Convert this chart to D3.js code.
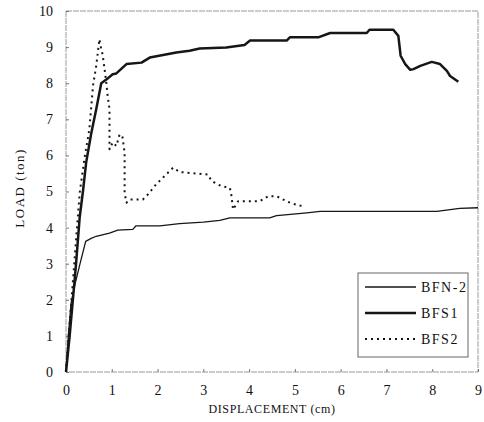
<!DOCTYPE html>
<html>
<head>
<meta charset="utf-8">
<script src="https://cdn.jsdelivr.net/npm/d3@7"></script>
<style>
  body { margin: 0; background: #fff; }
  text { font-family: "Liberation Serif", "DejaVu Serif", serif; fill: #111; }
</style>
</head>
<body>
<div class="chart"></div>
<script>
// data: [displacement (cm), load (ton)]
const seriesNames = ['BFN-2', 'BFS1', 'BFS2'];
const xTicks = [0, 1, 2, 3, 4, 5, 6, 7, 8, 9];
const yTicks = [0, 1, 2, 3, 4, 5, 6, 7, 8, 9, 10];

const bfn2 = [[0,0],[0.05,1.0],[0.11,1.9],[0.2,2.45],[0.3,2.97],[0.43,3.62],[0.55,3.7],[0.66,3.76],
  [0.95,3.85],[1.13,3.93],[1.46,3.95],[1.53,4.05],[2.05,4.05],[2.48,4.11],[3.0,4.15],[3.36,4.2],
  [3.58,4.27],[4.45,4.27],[4.6,4.33],[5.26,4.41],[5.55,4.45],[6.5,4.45],[7.5,4.45],[8.1,4.45],
  [8.6,4.53],[9.0,4.55]];

const bfs1 = [[0,0],[0.08,1.0],[0.15,2.0],[0.22,3.0],[0.3,4.3],[0.37,5.0],[0.44,5.8],[0.55,6.6],
  [0.66,7.28],[0.77,8.0],[0.88,8.1],[1.02,8.25],[1.1,8.27],[1.32,8.53],[1.65,8.57],[1.83,8.71],
  [2.41,8.85],[2.7,8.9],[2.92,8.96],[3.5,8.99],[3.9,9.06],[4.02,9.18],[4.82,9.18],[4.89,9.27],
  [5.51,9.27],[5.77,9.39],[6.57,9.39],[6.63,9.48],[7.15,9.48],[7.26,9.31],[7.31,8.76],[7.41,8.53],
  [7.52,8.37],[7.59,8.39],[7.74,8.48],[7.99,8.59],[8.17,8.53],[8.32,8.34],[8.39,8.2],[8.57,8.04]];

const bfs2 = [[0,0],[0.06,1.0],[0.12,2.0],[0.18,3.0],[0.24,4.0],[0.3,4.97],[0.4,5.89],[0.51,6.72],
  [0.59,7.93],[0.66,8.48],[0.73,9.22],[0.77,8.94],[0.8,8.8],[0.88,8.02],[0.91,7.65],[0.95,7.28],
  [0.95,6.44],[0.95,6.17],[1.02,6.36],[1.1,6.26],[1.17,6.58],[1.23,6.54],[1.28,6.08],[1.28,4.97],
  [1.32,4.69],[1.39,4.78],[1.68,4.78],[1.79,4.92],[1.97,5.2],[2.34,5.66],[2.48,5.54],[3.1,5.47],
  [3.18,5.29],[3.39,5.15],[3.58,5.1],[3.61,4.92],[3.65,4.5],[3.76,4.73],[4.23,4.73],[4.42,4.87],
  [4.6,4.87],[4.82,4.73],[4.93,4.67],[5.18,4.59]];

const allSeries = [bfn2, bfs1, bfs2];
const strokeWidths = [1.3, 2.5, 2];
const dashes = [null, null, '2,4'];

// layout
const W = 484, H = 422;
const margin = {top: 11, right: 5, bottom: 50, left: 66},
  width = W - margin.left - margin.right,
  height = H - margin.top - margin.bottom;

const svg = d3.select('.chart')
  .append('svg')
  .attr('width', W)
  .attr('height', H)
  .append('g')
  .attr('transform', 'translate(' + margin.left + ',' + margin.top + ')');

const xScale = d3.scaleLinear().domain([0, 9]).range([0, 412]);
const yScale = d3.scaleLinear().domain([0, 10]).range([height, 0]);

// frame
svg.append('rect')
  .attr('x', 0).attr('y', 0)
  .attr('width', xScale(9)).attr('height', height)
  .attr('fill', 'none')
  .attr('stroke', '#999')
  .attr('stroke-width', 1)
  .attr('stroke-dasharray', '6,1');

// axes
svg.append('g')
  .attr('transform', 'translate(0,' + height + ')')
  .call(d3.axisBottom(xScale).tickValues(xTicks).tickSize(-3).tickPadding(13).tickFormat(d3.format('d')))
  .call(g => g.select('.domain').remove())
  .call(g => g.selectAll('.tick line').attr('stroke', '#777'))
  .call(g => g.selectAll('.tick text').attr('font-size', 14).attr('font-family', '"Liberation Serif", serif').attr('fill', '#111'));

svg.append('g')
  .call(d3.axisLeft(yScale).tickValues(yTicks).tickSize(-3).tickPadding(13).tickFormat(d3.format('d')))
  .call(g => g.select('.domain').remove())
  .call(g => g.selectAll('.tick line').attr('stroke', '#777'))
  .call(g => g.selectAll('.tick text').attr('font-size', 14).attr('font-family', '"Liberation Serif", serif').attr('fill', '#111'));

// axis titles
svg.append('text')
  .attr('x', 206)
  .attr('y', height + 41)
  .attr('text-anchor', 'middle')
  .attr('font-size', 12)
  .attr('letter-spacing', 0.6)
  .text('DISPLACEMENT (cm)');

svg.append('text')
  .attr('transform', 'translate(-42,' + (yScale(5.1)) + ') rotate(-90)')
  .attr('text-anchor', 'middle')
  .attr('font-size', 13)
  .attr('letter-spacing', 1.5)
  .text('LOAD (ton)');

// curves
const line = d3.line()
  .x(d => xScale(d[0]))
  .y(d => yScale(d[1]));

allSeries.forEach((s, i) => {
  svg.append('path')
    .datum(s)
    .attr('d', line)
    .attr('fill', 'none')
    .attr('stroke', '#161616')
    .attr('stroke-width', strokeWidths[i])
    .attr('stroke-linejoin', 'round')
    .attr('stroke-dasharray', dashes[i]);
});

// legend
const legend = svg.append('g')
  .attr('transform', 'translate(' + (358 - margin.left) + ',' + (273 - margin.top) + ')');

legend.append('rect')
  .attr('width', 110).attr('height', 84)
  .attr('fill', '#fff')
  .attr('stroke', '#666')
  .attr('stroke-width', 1);

seriesNames.forEach((name, i) => {
  const yy = 14 + i * 26;
  legend.append('line')
    .attr('x1', 7).attr('x2', 58)
    .attr('y1', yy).attr('y2', yy)
    .attr('stroke', '#161616')
    .attr('stroke-width', strokeWidths[i])
    .attr('stroke-dasharray', dashes[i]);
  legend.append('text')
    .attr('x', 63)
    .attr('y', yy + 5)
    .attr('font-size', 14)
    .attr('letter-spacing', 1.5)
    .text(name);
});
</script>
</body>
</html>
